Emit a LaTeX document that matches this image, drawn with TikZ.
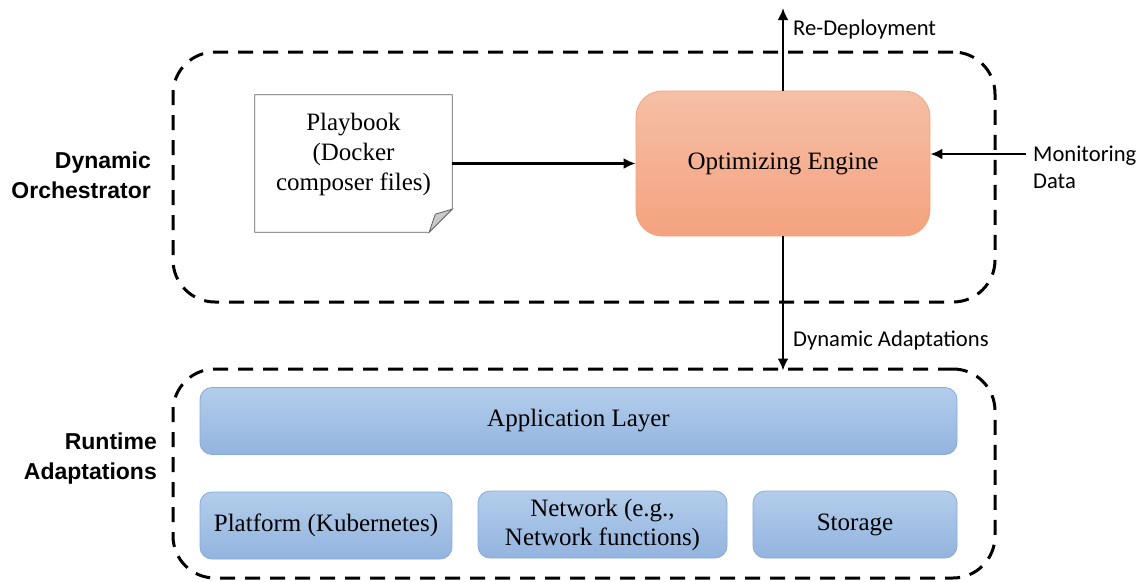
\documentclass[tikz,border=0pt]{standalone}
\usepackage{fontspec}
\setmainfont{Liberation Serif}
\newfontfamily\labelfont{Carlito}
\newfontfamily\headfont{Liberation Sans}
\usetikzlibrary{arrows.meta,fit}
\pgfdeclarelayer{bg}
\pgfsetlayers{bg,main}
\definecolor{engtop}{HTML}{F6BFA6}
\definecolor{engbot}{HTML}{F4A27E}
\definecolor{engline}{HTML}{F0A47C}
\definecolor{bluetop}{HTML}{B3CDEB}
\definecolor{bluebot}{HTML}{93B4DF}
\definecolor{blueline}{HTML}{86AADA}
\definecolor{foldgray}{HTML}{C9C9C9}
\definecolor{noteline}{HTML}{606060}
\tikzset{
  group/.style={draw, line width=3pt, dash pattern=on 15pt off 10pt, rounded corners=42pt,
    minimum width=822pt, inner sep=0pt},
  layerbox/.style={draw=blueline, line width=0.8pt, top color=bluetop, bottom color=bluebot,
    rounded corners=12pt, minimum height=67pt, inner sep=0pt, align=center,
    font=\fontsize{25}{29}\selectfont},
  engine/.style={draw=engline, line width=0.8pt, top color=engtop, bottom color=engbot,
    rounded corners=26pt, minimum width=294pt, minimum height=145pt, inner sep=0pt,
    font=\fontsize{25}{30}\selectfont},
  flow/.style={line width=2.8pt, -{Latex[length=12pt,width=11pt]}},
  edgelabel/.style={font=\labelfont\fontsize{22.6}{27}\selectfont, inner sep=0pt, align=left},
  headlabel/.style={font=\headfont\bfseries\fontsize{23}{30}\selectfont, inner sep=0pt, align=right}
}
\begin{document}
\begin{tikzpicture}[x=1pt,y=-1pt]
\useasboundingbox (0,0) rectangle (1143,581);

% dashed groups
\node[group, minimum height=250pt] (orch) at (584,177) {};
\node[group, minimum height=209pt] (rt) at (584,473.5) {};

\node[headlabel, anchor=east] (orchlbl) at (151,175) {Dynamic\\Orchestrator};
\node[headlabel, anchor=east] (rtlbl) at (157,459) {Runtime\\Adaptations};

% playbook note with folded corner
\node[fit={(255,95) (452,232)}, inner sep=0pt] (play) {};
\draw[noteline, line width=0.8pt, fill=white]
  (play.north west) -- (play.north east) -- ([yshift=23pt]play.south east)
  -- ([xshift=-23pt]play.south east) -- (play.south west) -- cycle;
\draw[noteline, line width=0.8pt, fill=foldgray]
  ([yshift=23pt]play.south east) -- ([xshift=-23pt]play.south east)
  -- ([xshift=-17pt,yshift=18pt]play.south east) -- cycle;
\node[align=center, font=\fontsize{25}{30}\selectfont, inner sep=0pt] (playtxt)
  at (353.5,154) {Playbook\\(Docker\\composer files)};

% optimizing engine
\node[engine] (eng) at (783,163.5) {Optimizing Engine};

% connectors
\coordinate (redep) at (783,8);
\coordinate (mon) at (1026,154);
\draw[flow] (play.east) -- (eng.west);
\draw[flow] (eng.north) -- (redep);
\draw[flow] (mon) -- (mon -| eng.east);
\draw[flow] (eng.south) -- ([yshift=-3pt]eng.south |- rt.north);

\node[edgelabel, anchor=west] (redeplbl) at (793,29) {Re-Deployment};
\node[edgelabel, anchor=north west] (monlbl) at (1033,146) {Monitoring\\Data};
\node[edgelabel, anchor=west] (adlbl) at (793,340) {Dynamic Adaptations};

% runtime layers
\node[layerbox, minimum width=757pt] (app) at (578.5,421) {Application Layer};
\node[layerbox, minimum width=252pt] (plat) at (326,525.5) {Platform (Kubernetes)};
\node[layerbox, minimum width=249pt] (net) at (602.5,524.5) {Network (e.g.,\\Network functions)};
\node[layerbox, minimum width=204pt] (stor) at (855,524.5) {Storage};
\end{tikzpicture}
\end{document}
